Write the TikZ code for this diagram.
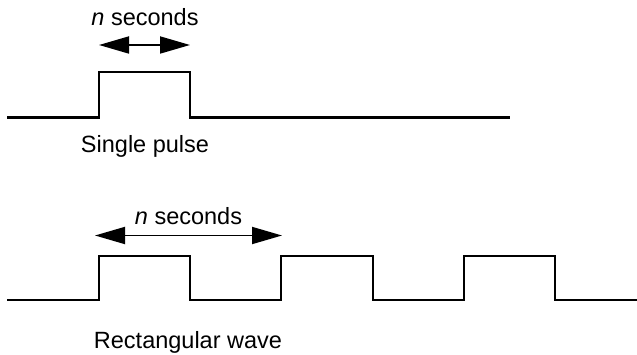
\documentclass[tikz,border=0pt]{standalone}
\usepackage{fontspec}
\setmainfont{Liberation Sans}
\usetikzlibrary{arrows.meta}
\tikzset{
  wave/.style={line width=2.4pt, line join=miter, line cap=butt},
  dimarrow/.style={line width=1.8pt, {Triangle[length=30pt,width=17pt]}-{Triangle[length=30pt,width=17pt]}},
  lbl/.style={font=\fontsize{23.5}{28}\selectfont, anchor=base, inner sep=0pt}
}
\begin{document}
\begin{tikzpicture}[x=1pt,y=-1pt]
\useasboundingbox (0,0) rectangle (637,355);
% single pulse
\draw[wave] (7,117.5) -- (99,117.5) -- (99,72) -- (190,72) -- (190,117.5) -- (510,117.5);
\coordinate (a1) at (99,45);
\coordinate (b1) at (190,45);
\draw[dimarrow] (a1) -- (b1);
\node[lbl] (t1) at (145,26) {\textit{n} seconds};
\node[lbl] (s1) at (145,153) {Single pulse};
% rectangular wave
\draw[wave] (7,300) -- (99,300) -- (99,256) -- (190,256) -- (190,300) -- (281,300) -- (281,256)
  -- (373,256) -- (373,300) -- (464,300) -- (464,256) -- (555,256) -- (555,300) -- (637,300);
\coordinate (a2) at (95,235.5);
\coordinate (b2) at (282,235.5);
\draw[dimarrow] (a2) -- (b2);
\node[lbl] (t2) at (188.5,225) {\textit{n} seconds};
\node[lbl] (s2) at (188,348) {Rectangular wave};
\end{tikzpicture}
\end{document}
